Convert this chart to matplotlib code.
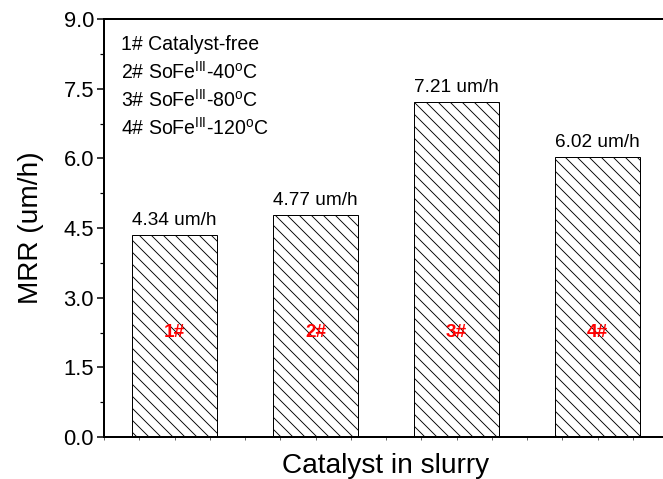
import numpy as np
import matplotlib
matplotlib.use("Agg")
import matplotlib.pyplot as plt
from matplotlib.ticker import MultipleLocator, FormatStrFormatter

plt.rcParams["font.family"] = ["Liberation Sans", "DejaVu Sans"]
plt.rcParams["mathtext.fontset"] = "custom"
plt.rcParams["mathtext.rm"] = "Liberation Sans"
plt.rcParams["mathtext.it"] = "Liberation Sans:italic"
plt.rcParams["mathtext.bf"] = "Liberation Sans:bold"
plt.rcParams["hatch.linewidth"] = 0.9

# ---- data -----------------------------------------------------------------
samples = ["1#", "2#", "3#", "4#"]
mrr = [4.34, 4.77, 7.21, 6.02]
legend_lines = [
    "1# Catalyst-free",
    r"2# SoFe$^{\rm III}$-40$^{\rm o}$C",
    r"3# SoFe$^{\rm III}$-80$^{\rm o}$C",
    r"4# SoFe$^{\rm III}$-120$^{\rm o}$C",
]

# ---- figure ---------------------------------------------------------------
DPI = 72
fig = plt.figure(figsize=(663 / DPI, 479 / DPI), dpi=DPI)
ax = fig.add_axes([104 / 663, 42 / 479, 564 / 663, 418 / 479])

x = np.arange(1, len(samples) + 1)
ax.bar(x, mrr, width=0.6, color="white", edgecolor="black",
       linewidth=1.0, hatch="\\\\")

for xi, v in zip(x, mrr):
    ax.annotate(f"{v:.2f} um/h", (xi, v), xytext=(0, 6),
                textcoords="offset points", ha="center", va="bottom",
                fontsize=19)

for xi, s in zip(x, samples):
    ax.text(xi, 2.25, s, color="red", fontweight="bold", fontsize=19,
            ha="center", va="center")

for i, line in enumerate(legend_lines):
    ax.text(0.03, 0.94 - i * 0.067, line, transform=ax.transAxes,
            fontsize=19.5, ha="left", va="center")

ax.set_xlim(0.5, 4.5)
ax.set_ylim(0, 9)
ax.yaxis.set_major_locator(MultipleLocator(1.5))
ax.yaxis.set_minor_locator(MultipleLocator(0.75))
ax.yaxis.set_major_formatter(FormatStrFormatter("%.1f"))
ax.set_xticks([])
ax.xaxis.set_minor_locator(MultipleLocator(0.25))

ax.tick_params(axis="y", which="major", direction="out", length=7,
               width=1.5, labelsize=22, pad=3)
ax.tick_params(axis="y", which="minor", direction="out", length=4, width=1.2)
ax.tick_params(axis="x", which="minor", direction="out", length=3,
               width=1.0, color="#666666")

for side in ["left", "bottom", "top", "right"]:
    ax.spines[side].set_linewidth(2)

ax.set_ylabel("MRR (um/h)", fontsize=28, labelpad=20)
ax.set_xlabel("Catalyst in slurry", fontsize=28, labelpad=10)

fig.savefig("out.png", dpi=DPI, facecolor="white")
